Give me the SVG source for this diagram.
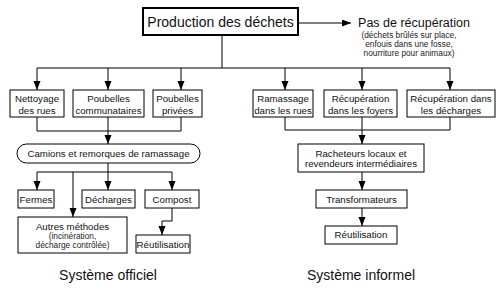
<svg xmlns="http://www.w3.org/2000/svg" width="500" height="289" viewBox="0 0 500 289">
<defs>
<marker id="ah" markerUnits="userSpaceOnUse" markerWidth="10" markerHeight="8" refX="9" refY="3.5" orient="auto">
<path d="M0,0 L9,3.5 L0,7 z" fill="#000"/>
</marker>
<style>
.box{fill:#fff;stroke:#000;stroke-width:1}
.t{font-family:"Liberation Sans",Arial,sans-serif;font-size:9.7px;fill:#111;text-anchor:middle}
.s{font-family:"Liberation Sans",Arial,sans-serif;font-size:8.3px;fill:#222;text-anchor:middle}
.big{font-family:"Liberation Sans",Arial,sans-serif;font-size:14px;fill:#111;text-anchor:middle}
.c{fill:none;stroke:#000;stroke-width:1}
.a{fill:none;stroke:#000;stroke-width:1;marker-end:url(#ah)}
</style>
</defs>
<rect width="500" height="289" fill="#fff"/>
<g id="connectors">
<path class="a" d="M298,23 H351"/>
<path class="c" d="M222,35 V68 M37,68 H450"/>
<path class="a" d="M37,68 V90"/>
<path class="a" d="M108,68 V90"/>
<path class="a" d="M181,68 V90"/>
<path class="a" d="M285,68 V90"/>
<path class="a" d="M362,68 V90"/>
<path class="a" d="M450,68 V90"/>
<path class="c" d="M37,117 V131 M181,117 V131 M37,131 H181 M108,117 V131"/>
<path class="a" d="M108,131 V144"/>
<path class="a" d="M108,163 V190"/>
<path class="c" d="M37,172 H172"/>
<path class="a" d="M37,172 V190"/>
<path class="a" d="M73,172 V217"/>
<path class="a" d="M172,172 V190"/>
<path class="a" d="M172,208 V221 H162 V235"/>
<path class="c" d="M285,117 V130 M450,117 V130 M285,130 H450 M362,117 V130"/>
<path class="a" d="M362,130 V144"/>
<path class="a" d="M362,172 V190"/>
<path class="a" d="M362,208 V226"/>
</g>
<g id="production">
<rect x="143" y="8" width="155" height="27" fill="#fff" stroke="#000" stroke-width="2"/>
<text class="big" x="220.5" y="27">Production des déchets</text>
</g>
<g id="pas-recuperation">
<text x="414" y="27" font-family="Liberation Sans, Arial, sans-serif" font-size="12.5" fill="#111" text-anchor="middle">Pas de récupération</text>
<text class="s" x="409" y="38">(déchets brûlés sur place,</text>
<text class="s" x="409" y="47">enfouis dans une fosse,</text>
<text class="s" x="409" y="56">nourriture pour animaux)</text>
</g>
<g id="nettoyage">
<rect class="box" x="10" y="90" width="54" height="27"/>
<text class="t" x="37" y="102">Nettoyage</text>
<text class="t" x="37" y="113.5">des rues</text>
</g>
<g id="poubelles-communataires">
<rect class="box" x="73" y="90" width="71" height="27"/>
<text class="t" x="108.5" y="102">Poubelles</text>
<text class="t" x="108.5" y="113.5">communataires</text>
</g>
<g id="poubelles-privees">
<rect class="box" x="153" y="90" width="49" height="27"/>
<text class="t" x="177.5" y="102">Poubelles</text>
<text class="t" x="177.5" y="113.5">privées</text>
</g>
<g id="camions">
<rect class="box" x="17" y="144" width="183" height="19" rx="9.5" ry="9.5"/>
<text class="t" x="108.5" y="157">Camions et remorques de ramassage</text>
</g>
<g id="fermes">
<rect class="box" x="18" y="190" width="36" height="18"/>
<text class="t" x="36" y="202.5">Fermes</text>
</g>
<g id="decharges">
<rect class="box" x="82" y="190" width="53" height="18"/>
<text class="t" x="108.5" y="202.5">Décharges</text>
</g>
<g id="compost">
<rect class="box" x="145" y="190" width="54" height="18"/>
<text class="t" x="172" y="202.5">Compost</text>
</g>
<g id="autres-methodes">
<rect class="box" x="18" y="217" width="109" height="36"/>
<text class="t" x="72.5" y="229.5">Autres méthodes</text>
<text class="s" x="72.5" y="238.5">(incinération,</text>
<text class="s" x="72.5" y="247.5">décharge contrôlée)</text>
</g>
<g id="reutilisation-officiel">
<rect class="box" x="136" y="235" width="54" height="18"/>
<text class="t" x="163" y="247.5">Réutilisation</text>
</g>
<g id="ramassage">
<rect class="box" x="253" y="90" width="60" height="27"/>
<text class="t" x="283" y="102">Ramassage</text>
<text class="t" x="283" y="113.5">dans les rues</text>
</g>
<g id="recuperation-foyers">
<rect class="box" x="324" y="90" width="73" height="27"/>
<text class="t" x="360.5" y="102">Récupération</text>
<text class="t" x="360.5" y="113.5">dans les foyers</text>
</g>
<g id="recuperation-decharges">
<rect class="box" x="407" y="90" width="88" height="27"/>
<text class="t" x="451" y="102">Récupération dans</text>
<text class="t" x="451" y="113.5">les décharges</text>
</g>
<g id="racheteurs">
<rect class="box" x="298" y="144" width="126" height="28"/>
<text class="t" x="361" y="156.5">Racheteurs locaux et</text>
<text class="t" x="361" y="167">revendeurs intermédiaires</text>
</g>
<g id="transformateurs">
<rect class="box" x="316" y="190" width="91" height="18"/>
<text class="t" x="361.5" y="202.5">Transformateurs</text>
</g>
<g id="reutilisation-informel">
<rect class="box" x="325" y="226" width="72" height="18"/>
<text class="t" x="361" y="238">Réutilisation</text>
</g>
<text class="big" x="108" y="280">Système officiel</text>
<text class="big" x="361" y="280">Système informel</text>
</svg>
